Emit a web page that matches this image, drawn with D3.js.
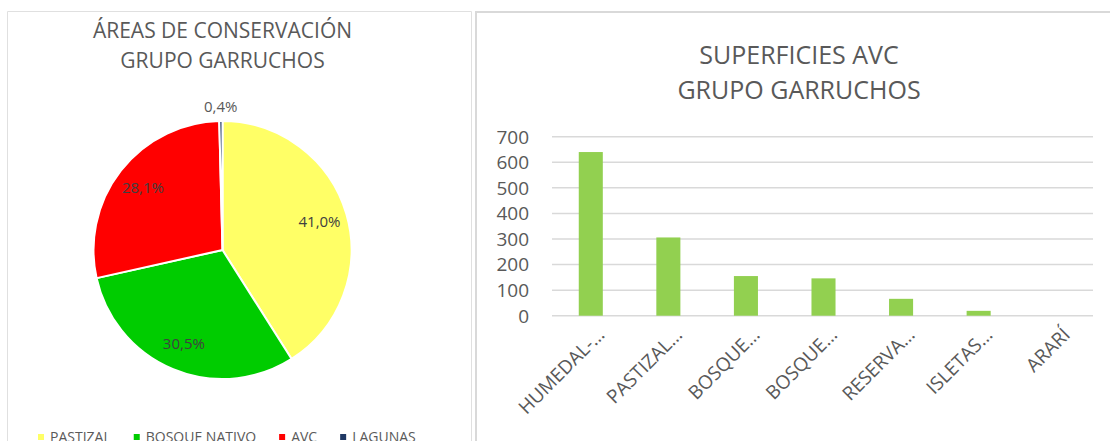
<!DOCTYPE html>
<html>
<head>
<meta charset="utf-8">
<script src="https://cdn.jsdelivr.net/npm/d3@7"></script>
<style>
    body { margin: 0; background: #fff; }
    text { font-family: "Open Sans", sans-serif; }
</style>
</head>
<body>
<script>
const width = 1110;
const height = 441;
const textGrey = "#595959";
const gridGrey = "#d9d9d9";

// pie: areas de conservacion (percent)
const pieCategories = ["PASTIZAL", "BOSQUE NATIVO", "AVC", "LAGUNAS"];
const pieValues = [41.0, 30.5, 28.1, 0.4];
const pieColors = ["#ffff66", "#00cc00", "#ff0000", "#1f3864"];

// bars: superficies AVC
const barCategories = ["HUMEDAL-…", "PASTIZAL…", "BOSQUE…", "BOSQUE…", "RESERVA…", "ISLETAS…", "ARARÍ"];
const barValues = [640, 306, 155, 146, 66, 19, 0];
const yTicks = [0, 100, 200, 300, 400, 500, 600, 700];
const barColor = "#92d050";

const svg = d3.select("body")
    .append("svg")
    .attr("width", width)
    .attr("height", height);

// panel frames
svg.append("path")
    .attr("d", "M7.5," + height + "V11.5H471.5V" + height)
    .attr("fill", "none")
    .attr("stroke", "#e0e0e0")
    .attr("stroke-width", 1);

svg.append("path")
    .attr("d", "M476," + height + "V12H" + width)
    .attr("fill", "none")
    .attr("stroke", gridGrey)
    .attr("stroke-width", 2);

// ---------- pie ----------
const pieCx = 222.5;
const pieCy = 250;
const radius = 129;

const leftTitle = svg.append("text")
    .attr("text-anchor", "middle")
    .attr("font-size", 21)
    .attr("fill", textGrey);

leftTitle.append("tspan").attr("x", pieCx).attr("y", 38).text("ÁREAS DE CONSERVACIÓN");
leftTitle.append("tspan").attr("x", pieCx).attr("y", 68).text("GRUPO GARRUCHOS");

const slices = d3.pie().sort(null)(pieValues);

const arc = d3.arc()
    .innerRadius(0)
    .outerRadius(radius);

const labelArc = d3.arc()
    .innerRadius(101)
    .outerRadius(101);

const outerArc = d3.arc()
    .innerRadius(radius + 14)
    .outerRadius(radius + 14);

const pieG = svg.append("g")
    .attr("transform", "translate(" + pieCx + "," + pieCy + ")");

pieG.selectAll("path")
    .data(slices)
    .enter()
    .append("path")
    .attr("d", arc)
    .attr("fill", (d, i) => pieColors[i])
    .attr("stroke", "#fff")
    .attr("stroke-width", 2)
    .attr("stroke-linejoin", "round");

pieG.selectAll("text")
    .data(slices)
    .enter()
    .append("text")
    .attr("transform", d => "translate(" + (d.value < 2 ? outerArc : labelArc).centroid(d) + ")")
    .attr("text-anchor", "middle")
    .attr("dy", "0.35em")
    .attr("font-size", 15)
    .attr("fill", d => d.value < 2 ? textGrey : "#404040")
    .text(d => d.value.toFixed(1).replace(".", ",") + "%");

// legend
const legend = svg.append("g");
let legendX = 38;
pieCategories.forEach((name, i) => {
    legend.append("rect")
        .attr("x", legendX)
        .attr("y", 434)
        .attr("width", 6)
        .attr("height", 6)
        .attr("fill", pieColors[i]);
    const t = legend.append("text")
        .attr("x", legendX + 12)
        .attr("y", 441.5)
        .attr("font-size", 14)
        .attr("fill", textGrey)
        .text(name);
    legendX += 12 + t.node().getComputedTextLength() + 23;
});

// ---------- bars ----------
const rightTitle = svg.append("text")
    .attr("text-anchor", "middle")
    .attr("font-size", 25)
    .attr("fill", textGrey);

rightTitle.append("tspan").attr("x", 799).attr("y", 63.5).text("SUPERFICIES AVC");
rightTitle.append("tspan").attr("x", 799).attr("y", 98.5).text("GRUPO GARRUCHOS");

const xScale = d3.scaleBand()
    .domain(d3.range(barCategories.length))
    .range([552, 1095])
    .paddingInner(0.69)
    .paddingOuter(0.345);

const yScale = d3.scaleLinear()
    .domain([0, 700])
    .range([315.7, 136.7]);

svg.append("g")
    .selectAll("line")
    .data(yTicks)
    .enter()
    .append("line")
    .attr("x1", 552)
    .attr("x2", 1093)
    .attr("y1", d => yScale(d))
    .attr("y2", d => yScale(d))
    .attr("stroke", gridGrey)
    .attr("stroke-width", 1.5);

svg.append("g")
    .selectAll("text")
    .data(yTicks)
    .enter()
    .append("text")
    .attr("x", 529)
    .attr("y", d => yScale(d))
    .attr("dy", "0.36em")
    .attr("text-anchor", "end")
    .attr("font-size", 19)
    .attr("fill", textGrey)
    .text(d => d);

svg.append("g")
    .selectAll("rect")
    .data(barValues)
    .enter()
    .append("rect")
    .attr("x", (d, i) => xScale(i))
    .attr("width", xScale.bandwidth())
    .attr("y", d => yScale(d))
    .attr("height", d => yScale(0) - yScale(d))
    .attr("fill", barColor);

svg.append("g")
    .selectAll("text")
    .data(barCategories)
    .enter()
    .append("text")
    .attr("transform", (d, i) => "translate(" + (xScale(i) + xScale.bandwidth() / 2 + 15) + ",336) rotate(-45)")
    .attr("text-anchor", "end")
    .attr("font-size", 19)
    .attr("fill", textGrey)
    .text(d => d);
</script>
</body>
</html>
